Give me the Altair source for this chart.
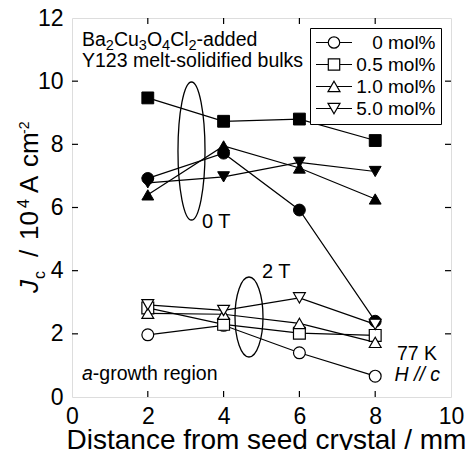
import altair as alt
import pandas as pd

# ---------------- data ----------------
positions = [2, 4, 6, 8]                     # distance from seed crystal / mm
series = ["0 mol%", "0.5 mol%", "1.0 mol%", "5.0 mol%"]

# 0 T (filled symbols)
jc0T_0 = [6.92, 7.72, 5.92, 2.40]
jc0T_05 = [9.47, 8.73, 8.80, 8.12]
jc0T_10 = [6.40, 7.95, 7.25, 6.27]
jc0T_50 = [6.78, 6.97, 7.43, 7.14]
# 2 T (open symbols)
jc2T_0 = [1.97, 2.27, 1.40, 0.66]
jc2T_05 = [2.82, 2.30, 2.02, 1.95]
jc2T_10 = [2.65, 2.62, 2.33, 1.73]
jc2T_50 = [2.92, 2.74, 3.14, 2.30]

x_ticks = [0, 2, 4, 6, 8, 10]
y_ticks = [0, 2, 4, 6, 8, 10, 12]
inner_x_ticks = [2, 4, 6, 8]
inner_y_ticks = [2, 4, 6, 8, 10]

rows = []
for field, sets in (("0T", [jc0T_0, jc0T_05, jc0T_10, jc0T_50]),
                    ("2T", [jc2T_0, jc2T_05, jc2T_10, jc2T_50])):
    for name, vals in zip(series, sets):
        for xv, yv in zip(positions, vals):
            rows.append({"x": xv, "jc": yv, "series": name, "field": field,
                         "key": name + "_" + field})
df = pd.DataFrame(rows)

# ---------------- layout ----------------
W, H = 379, 379
FONT = "Liberation Sans"

def ell(a, b=1.0):
    k = 0.5523
    return (f"M0,{-b}C{k*a:.3f},{-b},{a},{-k*b:.3f},{a},0"
            f"C{a},{k*b:.3f},{k*a:.3f},{b},0,{b}"
            f"C{-k*a:.3f},{b},{-a},{k*b:.3f},{-a},0"
            f"C{-a},{-k*b:.3f},{-k*a:.3f},{-b},0,{-b}Z")

# legend symbols (line + marker)
leg_paths = [
    "M-3,0L-0.95,0M0.95,0L3,0" + ell(0.95, 0.95),
    "M-3,0L-0.95,0M0.95,0L3,0M-0.95,-0.95L0.95,-0.95L0.95,0.95L-0.95,0.95Z",
    "M-3,0L-0.5,0M0.5,0L3,0M0,-0.87L1,0.87L-1,0.87Z",
    "M-3,0L-0.5,0M0.5,0L3,0M0,0.87L1,-0.87L-1,-0.87Z",
]

x_enc = alt.X("x:Q", scale=alt.Scale(domain=[0, 10], nice=False),
              axis=alt.Axis(values=x_ticks, ticks=False, domain=False, grid=False,
                            labelFontSize=23, labelPadding=8, labelFlush=False,
                            labelColor="black", title="Distance from seed crystal / mm",
                            titleFontSize=28, titleFontWeight="normal",
                            titleColor="black", titlePadding=-2, titleX=194))
y_enc = alt.Y("jc:Q", scale=alt.Scale(domain=[0, 12], nice=False),
              axis=alt.Axis(values=y_ticks, ticks=False, domain=False, grid=False,
                            labelFontSize=23, labelPadding=9, labelColor="black",
                            title=None))

shape_scale = alt.Scale(domain=series,
                        range=["circle", "square", "triangle-up", "triangle-down"])

lines = alt.Chart(df).mark_line(color="black", strokeWidth=1.2).encode(
    x=x_enc, y=y_enc, detail="key:N")

pts_filled = alt.Chart(df[df.field == "0T"]).mark_point(
    filled=True, fill="black", stroke="black", strokeWidth=1, size=140, opacity=1
).encode(x=x_enc, y=y_enc,
         shape=alt.Shape("series:N", scale=shape_scale, legend=None))

pts_open = alt.Chart(df[df.field == "2T"]).mark_point(
    filled=True, fill="white", stroke="black", strokeWidth=1.2, size=140, opacity=1
).encode(x=x_enc, y=y_enc,
         shape=alt.Shape("series:N", scale=shape_scale, legend=None))

# legend-only layer (drawn off canvas) with line+marker symbols
legend = alt.Legend(
    title=None, orient="top-right", offset=10, padding=5,
    strokeColor="black", fillColor="white",
    labelFontSize=19, labelFont=FONT, labelColor="black", labelAlign="right",
    labelOffset=92, symbolSize=144, symbolOffset=9.5,
    symbolStrokeColor="black", symbolStrokeWidth=1.2,
    symbolOpacity=1)
leg_layer = alt.Chart(pd.DataFrame({"series": series})).mark_point(
    filled=False, color="black", strokeWidth=1.2, size=144, opacity=1
).encode(x=alt.value(-2000), y=alt.value(-2000),
         shape=alt.Shape("series:N", scale=alt.Scale(domain=series, range=leg_paths),
                         legend=legend))

# inward ticks on all four sides
xt = pd.DataFrame({"x": inner_x_ticks})
yt = pd.DataFrame({"jc": inner_y_ticks})
tick_b = alt.Chart(xt).mark_rule(color="black", strokeWidth=1.2).encode(
    x=x_enc, y=alt.value(H), y2=alt.value(H - 6))
tick_t = alt.Chart(xt).mark_rule(color="black", strokeWidth=1.2).encode(
    x=x_enc, y=alt.value(0), y2=alt.value(6))
tick_l = alt.Chart(yt).mark_rule(color="black", strokeWidth=1.2).encode(
    y=y_enc, x=alt.value(0), x2=alt.value(6))
tick_r = alt.Chart(yt).mark_rule(color="black", strokeWidth=1.2).encode(
    y=y_enc, x=alt.value(W), x2=alt.value(W - 6))

# ellipses marking 0 T and 2 T groups
one = pd.DataFrame({"a": [0]})
ell0 = alt.Chart(one).mark_point(shape=ell(0.196), size=138 ** 2, filled=False,
                                 stroke="black", strokeWidth=1.3, opacity=1).encode(
    x=alt.value(119.5), y=alt.value(133))
ell2 = alt.Chart(one).mark_point(shape=ell(0.35), size=80 ** 2, filled=False,
                                 stroke="black", strokeWidth=1.3, opacity=1).encode(
    x=alt.value(177), y=alt.value(299))

def txt(s, x, y, size=19.5, style="normal", align="left", angle=0):
    return alt.Chart(pd.DataFrame({"t": [s]})).mark_text(
        font=FONT, fontSize=size, fontStyle=style, align=align, baseline="alphabetic",
        angle=angle, color="black").encode(
        text="t:N", x=alt.value(x), y=alt.value(y))

# Arial advance widths (per 1000 em)
AW = {"B": 667, "a": 556, "C": 722, "u": 556, "O": 778, "l": 222, "-": 333,
      "d": 556, "e": 556, "2": 556, "3": 556, "4": 556}
def width(s, fs):
    return sum(AW.get(c, 556) for c in s) * fs / 1000.0

annos = []
main_fs, sub_fs = 19.5, 14.5
cx = 10
for piece, is_sub in [("Ba", False), ("2", True), ("Cu", False), ("3", True),
                      ("O", False), ("4", True), ("Cl", False), ("2", True),
                      ("-added", False)]:
    fs = sub_fs if is_sub else main_fs
    annos.append(txt(piece, cx, 28 + (4 if is_sub else 0), size=fs))
    cx += width(piece, fs)
annos.append(txt("Y123 melt-solidified bulks", 10, 49))
annos.append(txt("a", 10, 362, style="italic"))
annos.append(txt("-growth region", 10 + width("a", 19.5), 362))
annos.append(txt("77 K", 365, 342, align="right"))
annos.append(txt("H // c", 368, 363, style="italic", align="right"))
annos.append(txt("0 T", 130, 210, size=20))
annos.append(txt("2 T", 190, 260, size=20))

# y-axis title: J_c / 10^4 A cm^-2 (rotated)
ytitle = [("J", 26, "italic", 293, 38), ("c", 16, "normal", 279, 45),
          ("/", 26, "normal", 257, 38), ("10", 26, "normal", 240, 38),
          ("4", 16, "normal", 208, 29), ("A", 26, "normal", 193, 38),
          ("cm", 26, "normal", 167, 38), ("-2", 14, "normal", 134, 29)]
for s, fs, st, py, px in ytitle:
    annos.append(txt(s, px - 72, py - 18, size=fs, style=st, angle=270))

chart = alt.layer(ell0, ell2, lines, pts_filled, pts_open, leg_layer,
                  tick_b, tick_t, tick_l, tick_r, *annos).resolve_scale(
    shape="independent"
).properties(
    width=W, height=H,
    autosize=alt.AutoSizeParams(type="none"),
    padding={"left": 72, "top": 18, "right": 19, "bottom": 53},
).configure_view(stroke="black", strokeWidth=1.2).configure(
    font=FONT, background="white")

chart.save("out.html", embed_options={"renderer": "svg", "actions": False})
